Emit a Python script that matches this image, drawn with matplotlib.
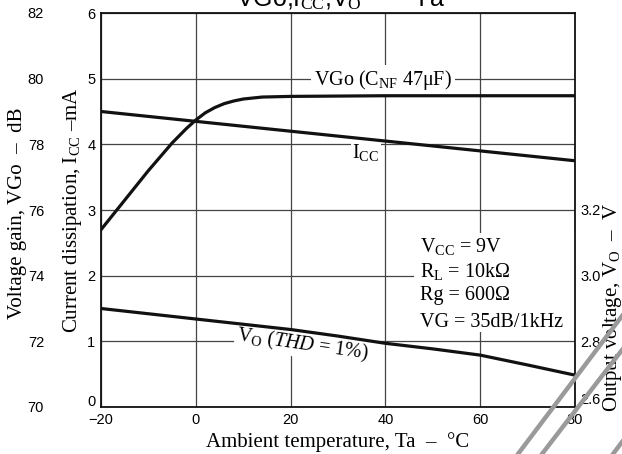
import matplotlib
matplotlib.use("Agg")
import matplotlib.pyplot as plt
from matplotlib.patches import Rectangle
from matplotlib.lines import Line2D
from matplotlib.transforms import ScaledTranslation

plt.rcParams['mathtext.fontset'] = 'custom'
plt.rcParams['mathtext.rm'] = 'Liberation Serif'
plt.rcParams['mathtext.it'] = 'Liberation Serif:italic'

SANS = 'Liberation Sans'
SERIF = 'Liberation Serif'

# ---- data ----
temp_vgo = [-20, -15, -10, -5, -2, 0, 2, 4, 6, 8, 10, 14, 20, 40, 80]
vgo_db = [75.40, 76.30, 77.20, 78.04, 78.48, 78.74, 78.96, 79.12, 79.24, 79.32,
          79.38, 79.44, 79.46, 79.48, 79.48]
temp_icc = [-20, 0, 20, 40, 60, 80]
icc_ma = [4.50, 4.35, 4.20, 4.05, 3.90, 3.75]
temp_vo = [-20, 0, 10, 20, 30, 40, 50, 60, 70, 80]
vo_v = [2.90, 2.868, 2.852, 2.836, 2.816, 2.794, 2.777, 2.758, 2.728, 2.697]

x_ticks = [-20, 0, 20, 40, 60, 80]
x_ticklabels = ['−20', '0', '20', '40', '60', '80']
icc_ticks = [0, 1, 2, 3, 4, 5, 6]
db_ticks = [70, 72, 74, 76, 78, 80, 82]
vo_ticks = [2.6, 2.8, 3.0, 3.2]
cond = ['V$_{\\mathrm{CC}}$ = 9V', 'R$_{\\mathrm{L}}$ = 10kΩ', 'Rg = 600Ω', 'VG = 35dB/1kHz']

LBL = 15
TXT = 14.5

fig = plt.figure(figsize=(6.22, 4.54), dpi=100)
ax = fig.add_axes([101/622, 1-407/454, 474/622, 394/454])
ax.set_xlim(-20, 80)
ax.set_ylim(0, 6)
ax.set_xticks(x_ticks)
ax.set_xticklabels(x_ticklabels, fontfamily=SANS, fontsize=10.5)
ax.set_yticks(icc_ticks)
ax.set_yticklabels([str(t) for t in icc_ticks], fontfamily=SANS, fontsize=10.5)
ax.tick_params(length=0, pad=4)
ax.grid(True, color='#444444', lw=0.9)
for s in ax.spines.values():
    s.set_linewidth(1.3)
    s.set_color('#111111')
    s.set_zorder(5)
ax.set_facecolor('none')

fig.canvas.draw()
lab0 = ax.get_yticklabels()[0]
lab0.set_transform(lab0.get_transform() + ScaledTranslation(0, 7/100, fig.dpi_scale_trans))

ax.plot(temp_icc, icc_ma, color='#111111', lw=2.3, zorder=4, solid_capstyle='butt')

# dB axis (outer left)
ax_db = ax.twinx()
ax_db.set_ylim(70, 82)
ax_db.yaxis.set_ticks_position('left')
ax_db.yaxis.set_label_position('left')
ax_db.spines['left'].set_position(('outward', 37))
for s in ax_db.spines.values():
    s.set_visible(False)
ax_db.set_yticks(db_ticks)
ax_db.set_yticklabels([str(t) for t in db_ticks], fontfamily=SANS, fontsize=10.5)
ax_db.tick_params(length=0, pad=4)
ax_db.plot(temp_vgo, vgo_db, color='#111111', lw=2.3, zorder=4)

# Vo axis (right)
ax_v = ax.twinx()
ax_v.set_ylim(2.6, 3.8)
for s in ax_v.spines.values():
    s.set_visible(False)
ax_v.set_yticks(vo_ticks)
ax_v.set_yticklabels(['2.6', '2.8', '3.0', '3.2'], fontfamily=SANS, fontsize=10.5)
ax_v.tick_params(length=0, pad=4)
ax_v.plot(temp_vo, vo_v, color='#111111', lw=2.3, zorder=4)
fig.canvas.draw()
lab26 = ax_v.get_yticklabels()[0]
lab26.set_transform(lab26.get_transform() + ScaledTranslation(0, 8/100, fig.dpi_scale_trans))

# axis labels
ax.set_xlabel('Ambient temperature, Ta  –  °C', fontfamily=SERIF, fontsize=LBL, labelpad=4)
fig.text(72/622, 1-210/454, 'Current dissipation, I$_{\\mathrm{CC}}$ –mA', fontfamily=SERIF,
         fontsize=LBL, rotation=90, ha='center', va='center')
fig.text(18/622, 1-213/454, 'Voltage gain, VGo  –  dB', fontfamily=SERIF,
         fontsize=LBL, rotation=90, ha='center', va='center')
fig.text(612/622, 1-307/454, 'Output voltage, V$_{\\mathrm{O}}$  –  V', fontfamily=SERIF,
         fontsize=LBL, rotation=90, ha='center', va='center')

# title (cut at top)
fig.text(341/622, 1-6/454, 'VGo,I$_{\\mathrm{CC}}$,V$_{\\mathrm{O}}$  —  Ta', fontfamily=SANS,
         fontsize=18, ha='center', va='baseline')

# curve labels
ax.text(39.5, 4.98, 'VGo (C$_{\\mathrm{NF}}$ 47μF)', fontfamily=SERIF, fontsize=TXT,
        ha='center', va='center', zorder=3, bbox=dict(facecolor='white', edgecolor='none', pad=2))
ax.text(35.9, 3.88, 'I$_{\\mathrm{CC}}$', fontfamily=SERIF, fontsize=TXT,
        ha='center', va='center', zorder=3, bbox=dict(facecolor='white', edgecolor='none', pad=1))
ax.text(22.5, 0.95, 'V$_{\\mathrm{O}}$ ($THD$ = $1\\%$)', fontfamily=SERIF, fontsize=TXT,
        ha='center', va='center', zorder=3, rotation=-8, rotation_mode='anchor',
        bbox=dict(facecolor='white', edgecolor='none', pad=1))

# conditions box
ax.add_patch(Rectangle((46.0, 1.14), 34.0, 1.51, facecolor='white', edgecolor='none', zorder=2.5))
for s, yy in zip(cond, [2.44, 2.06, 1.70, 1.29]):
    ax.text(47.3, yy, s, fontfamily=SERIF, fontsize=TXT, ha='left', va='center', zorder=3)

# gray scan stripes
for (x0, y0, x1, y1) in [(518, 454, 622, 316), (542, 454, 622, 350), (613, 454, 622, 442)]:
    fig.add_artist(Line2D([x0/622, x1/622], [1-y0/454, 1-y1/454], transform=fig.transFigure,
                          color='#9a9a9a', lw=3.2, zorder=10))

fig.savefig('out.png', dpi=100)
